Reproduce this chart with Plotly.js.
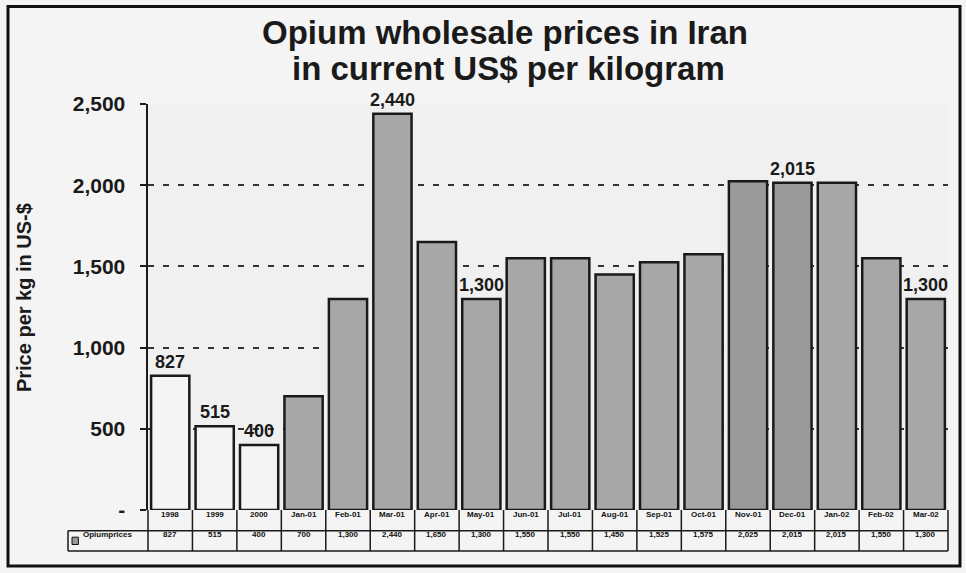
<!DOCTYPE html>
<html>
<head>
<meta charset="utf-8">
<script src="https://cdn.plot.ly/plotly-3.0.1.min.js"></script>
<style>
html,body{margin:0;padding:0;background:#f4f4f4;}
#chart{width:966px;height:573px;}
</style>
</head>
<body>
<div id="chart"></div>
<script>
// ---- data ----
var categories = ['1998','1999','2000','Jan-01','Feb-01','Mar-01','Apr-01','May-01','Jun-01','Jul-01','Aug-01','Sep-01','Oct-01','Nov-01','Dec-01','Jan-02','Feb-02','Mar-02'];
var prices = [827, 515, 400, 700, 1300, 2440, 1650, 1300, 1550, 1550, 1450, 1525, 1575, 2025, 2015, 2015, 1550, 1300];
var barLabels = ['827','515','400','','','2,440','','1,300','','','','','','','2,015','','','1,300'];
var tableValues = ['827','515','400','700','1,300','2,440','1,650','1,300','1,550','1,550','1,450','1,525','1,575','2,025','2,015','2,015','1,550','1,300'];
var seriesName = 'Opiumprices';
var yTickVals = [0, 500, 1000, 1500, 2000, 2500];
var yTickText = ['-', '500', '1,000', '1,500', '2,000', '2,500'];
var titleLine1 = 'Opium wholesale prices in Iran';
var titleLine2 = 'in current US$ per kilogram';
var yTitleText = 'Price per kg in US-$';

var FONT = 'Liberation Sans, Arial, Helvetica, sans-serif';
var idx = categories.map(function(c,i){return i;});
var fills = idx.map(function(i){ return i < 3 ? '#f4f4f4' : (i===13||i===14 ? '#9a9a9a' : '#a7a7a7'); });

var trace = {
  type: 'bar',
  x: idx,
  y: prices,
  name: seriesName,
  marker: {color: fills, line: {color: '#1a1a1a', width: 2.5}},
  hoverinfo: 'skip'
};

var annotations = [];
var shapes = [];
// title and y-axis title
annotations.push({x: 0.446, y: 1.175, xref: 'paper', yref: 'paper', text: titleLine1, showarrow: false,
  xanchor: 'center', yanchor: 'middle', font: {family: FONT, size: 33, color: '#1a1a1a', weight: 'bold'}});
annotations.push({x: 0.451, y: 1.088, xref: 'paper', yref: 'paper', text: titleLine2, showarrow: false,
  xanchor: 'center', yanchor: 'middle', font: {family: FONT, size: 33, color: '#1a1a1a', weight: 'bold'}});
annotations.push({x: -0.155, y: 0.522, xref: 'paper', yref: 'paper', text: yTitleText, showarrow: false, textangle: -90,
  xanchor: 'center', yanchor: 'middle', font: {family: FONT, size: 20, color: '#1a1a1a', weight: 'bold'}});
// bar value labels
idx.forEach(function(i){
  if (barLabels[i]) {
    annotations.push({x: i, y: prices[i], xref: 'x', yref: 'y', text: barLabels[i], showarrow: false,
      yanchor: 'bottom', yshift: 2, font: {family: FONT, size: 18, color: '#1a1a1a', weight: 'bold'}});
  }
});
// table
var r1 = -0.026, r2 = -0.076;
var yTop = 0, yMid = -0.051, yBot = -0.101, xLeft = -0.1;
idx.forEach(function(i){
  annotations.push({x: i, y: r1, xref: 'x', yref: 'paper', text: categories[i], showarrow: false,
    font: {family: FONT, size: 8, color: '#111', weight: 'bold'}});
  annotations.push({x: i, y: r2, xref: 'x', yref: 'paper', text: tableValues[i], showarrow: false,
    font: {family: FONT, size: 8, color: '#111', weight: 'bold'}});
});
annotations.push({x: xLeft + 0.016, y: r2, xref: 'paper', yref: 'paper', xanchor: 'left', text: seriesName, showarrow: false,
  font: {family: FONT, size: 8, color: '#111', weight: 'bold'}});
// legend key
shapes.push({type: 'rect', xref: 'paper', yref: 'paper', x0: xLeft + 0.005, x1: xLeft + 0.013, y0: r2 - 0.009, y1: r2 + 0.009,
  fillcolor: '#999', line: {color: '#111', width: 1}});
// table grid lines
var lineStyle = {color: '#1a1a1a', width: 1.5};
shapes.push({type: 'line', xref: 'paper', yref: 'paper', x0: 0, x1: 1, y0: yMid, y1: yMid, line: lineStyle});
shapes.push({type: 'line', xref: 'paper', yref: 'paper', x0: xLeft, x1: 1, y0: yBot, y1: yBot, line: lineStyle});
shapes.push({type: 'line', xref: 'paper', yref: 'paper', x0: xLeft, x1: 0, y0: yMid, y1: yMid, line: lineStyle});
shapes.push({type: 'line', xref: 'paper', yref: 'paper', x0: xLeft, x1: xLeft, y0: yMid, y1: yBot, line: lineStyle});
shapes.push({type: 'line', xref: 'paper', yref: 'paper', x0: 0, x1: 0, y0: yTop, y1: yBot, line: lineStyle});
shapes.push({type: 'line', xref: 'paper', yref: 'paper', x0: 1, x1: 1, y0: yTop, y1: yBot, line: lineStyle});
for (var k = 1; k < categories.length; k++) {
  var xv = k / categories.length;
  shapes.push({type: 'line', xref: 'paper', yref: 'paper', x0: xv, x1: xv, y0: yTop, y1: yBot, line: lineStyle});
}
// outer frame
shapes.push({type: 'rect', xref: 'paper', yref: 'paper', x0: -0.175, x1: 1.015, y0: -0.138, y1: 1.24,
  line: {color: '#111', width: 3}, fillcolor: 'rgba(0,0,0,0)', layer: 'below'});

var layout = {
  width: 966, height: 573,
  margin: {l: 148, r: 18, t: 104, b: 63},
  paper_bgcolor: '#f4f4f4',
  plot_bgcolor: '#f0f0f0',
  showlegend: false,
  bargap: 0.14,
  xaxis: {range: [-0.5, 17.5], showticklabels: false, ticks: '', showgrid: false, zeroline: false, showline: false, fixedrange: true},
  yaxis: {range: [0, 2500], tickvals: yTickVals, ticktext: yTickText, ticks: 'outside', ticklen: 6, tickwidth: 2, tickcolor: '#1a1a1a',
    ticklabelstandoff: 10,
    showline: true, linecolor: '#1a1a1a', linewidth: 2.5, zeroline: false,
    showgrid: true, gridcolor: '#333', griddash: '6px,9px', gridwidth: 2,
    tickfont: {family: FONT, size: 21, color: '#1a1a1a', weight: 'bold'}},
  annotations: annotations,
  shapes: shapes
};

Plotly.newPlot('chart', [trace], layout, {displayModeBar: false, staticPlot: true});
</script>
</body>
</html>
